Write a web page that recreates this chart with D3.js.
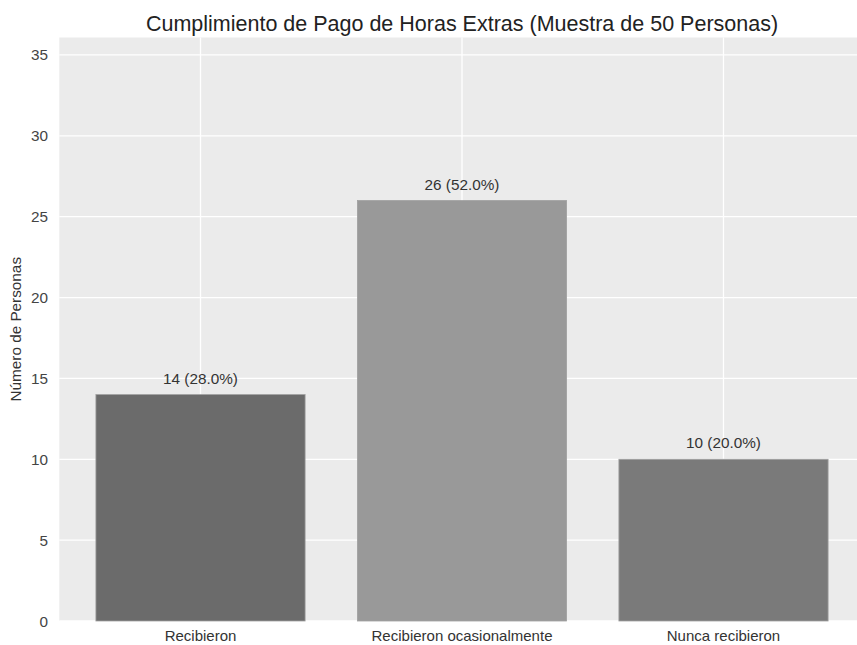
<!DOCTYPE html>
<html>
<head>
<meta charset="utf-8">
<script src="https://cdn.jsdelivr.net/npm/d3@7"></script>
<style>
  html, body { margin: 0; background: #fff; overflow: hidden; }
  svg { display: block; }
  text { font-family: "Liberation Sans", Arial, sans-serif; }
</style>
</head>
<body>
<div id="chart"></div>
<script>
// datos del grafico
var categories = ["Recibieron", "Recibieron ocasionalmente", "Nunca recibieron"];
var counts = [14, 26, 10];
var barColors = ["#6b6b6b", "#999999", "#7a7a7a"];
var yTicks = [0, 5, 10, 15, 20, 25, 30, 35];
var total = 50;

var width = 857, height = 645;
var plotLeft = 59.3, plotRight = 864.7, plotTop = 37.5, plotBottom = 621;

var svg = d3.select("#chart").append("svg")
  .attr("width", width)
  .attr("height", height)
  .style("overflow", "hidden");

// x como escala lineal sobre posiciones de barra (como matplotlib)
var x = d3.scaleLinear().domain([-0.54, 2.54]).range([plotLeft, plotRight]);
var y = d3.scaleLinear().domain([0, 36.08]).range([plotBottom, plotTop]);
var barW = 0.8;

svg.append("rect")
  .attr("x", plotLeft).attr("y", plotTop)
  .attr("width", plotRight - plotLeft).attr("height", plotBottom - plotTop)
  .attr("fill", "#ebebeb");

// grid
svg.selectAll(".hgrid").data(yTicks).enter().append("line")
  .attr("x1", plotLeft).attr("x2", plotRight)
  .attr("y1", function(d) { return y(d); })
  .attr("y2", function(d) { return y(d); })
  .attr("stroke", "#fff").attr("stroke-width", 1.3);

svg.selectAll(".vgrid").data(categories).enter().append("line")
  .attr("x1", function(d, i) { return x(i); })
  .attr("x2", function(d, i) { return x(i); })
  .attr("y1", plotTop).attr("y2", plotBottom)
  .attr("stroke", "#fff").attr("stroke-width", 1.3);

// barras
svg.selectAll(".bar").data(counts).enter().append("rect")
  .attr("x", function(d, i) { return x(i - barW / 2); })
  .attr("width", function(d, i) { return x(i + barW / 2) - x(i - barW / 2); })
  .attr("y", function(d) { return y(d); })
  .attr("height", function(d) { return y(0) - y(d); })
  .attr("fill", function(d, i) { return barColors[i]; })
  .attr("stroke", "#a0a0a0").attr("stroke-width", 0.8);

// etiquetas de valor
svg.selectAll(".val").data(counts).enter().append("text")
  .attr("x", function(d, i) { return x(i); })
  .attr("y", function(d) { return y(d) - 11; })
  .attr("text-anchor", "middle")
  .attr("font-size", 15.3)
  .attr("fill", "#333")
  .text(function(d) { return d + " (" + (d / total * 100).toFixed(1) + "%)"; });

// eje y
svg.selectAll(".ytick").data(yTicks).enter().append("text")
  .attr("x", 48)
  .attr("y", function(d) { return y(d) + 5.5; })
  .attr("text-anchor", "end")
  .attr("font-size", 15.3)
  .attr("fill", "#444")
  .text(function(d) { return d; });

// eje x
svg.selectAll(".xtick").data(categories).enter().append("text")
  .attr("x", function(d, i) { return x(i); })
  .attr("y", 640.5)
  .attr("text-anchor", "middle")
  .attr("font-size", 15)
  .attr("fill", "#333")
  .text(function(d) { return d; });

svg.append("text")
  .attr("transform", "translate(21," + ((plotTop + plotBottom) / 2) + ") rotate(-90)")
  .attr("text-anchor", "middle")
  .attr("font-size", 15.3)
  .attr("fill", "#333")
  .text("Número de Personas");

svg.append("text")
  .attr("x", (plotLeft + plotRight) / 2)
  .attr("y", 31)
  .attr("text-anchor", "middle")
  .attr("font-size", 21.5)
  .attr("fill", "#222")
  .text("Cumplimiento de Pago de Horas Extras (Muestra de 50 Personas)");
</script>
</body>
</html>
